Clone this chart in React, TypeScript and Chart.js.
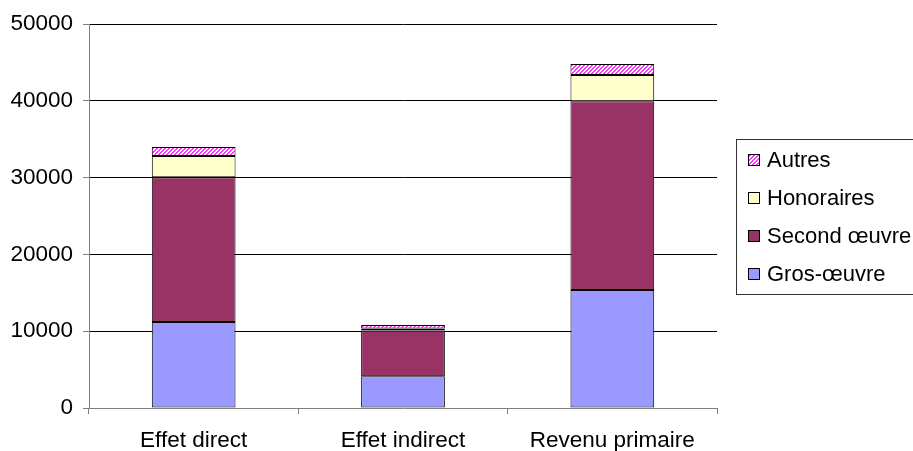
import React, { useEffect, useRef } from "react";
import { Chart, registerables } from "chart.js";

Chart.register(...registerables);

const categories = ["Effet direct", "Effet indirect", "Revenu primaire"];
const grosOeuvre = [11200, 4150, 15350];
const secondOeuvre = [18850, 5950, 24600];
const honoraires = [2750, 250, 3400];
const autres = [1200, 450, 1450];
const yTicks = [0, 10000, 20000, 30000, 40000, 50000];

const FONT = "'Liberation Sans', Arial, sans-serif";

function makeHatch(): CanvasPattern | string {
  const tile = document.createElement("canvas");
  tile.width = 4;
  tile.height = 4;
  const t = tile.getContext("2d");
  if (!t) return "#ff66ff";
  t.fillStyle = "#ffffff";
  t.fillRect(0, 0, 4, 4);
  t.fillStyle = "#ff33ff";
  for (let x = 0; x < 4; x++) {
    for (let y = 0; y < 4; y++) {
      if ((x + y) % 4 < 2) t.fillRect(x, y, 1, 1);
    }
  }
  const p = t.createPattern(tile, "repeat");
  return p || "#ff66ff";
}

// Boxed legend beside the plot, listed top-down in stacking order
const boxedLegend = {
  id: "boxedLegend",
  afterDraw(chart: any) {
    const { ctx, chartArea } = chart;
    const left = chartArea.right + 19;
    const mid = (chartArea.top + chartArea.bottom) / 2;
    const h = 155;
    const top = mid - h / 2;
    ctx.save();
    ctx.strokeStyle = "#333333";
    ctx.lineWidth = 1;
    ctx.strokeRect(Math.round(left) + 0.5, Math.round(top) + 0.5, 240, h);
    const sets = [...chart.data.datasets].reverse();
    ctx.font = `22px ${FONT}`;
    ctx.textBaseline = "middle";
    ctx.textAlign = "left";
    sets.forEach((ds: any, i: number) => {
      const cy = Math.round(top + 21 + i * 38);
      const sx = Math.round(left + 12);
      ctx.fillStyle = ds.backgroundColor;
      ctx.fillRect(sx, cy - 6, 12, 12);
      ctx.strokeStyle = "#000000";
      ctx.strokeRect(sx + 0.5, cy - 5.5, 11, 11);
      ctx.fillStyle = "#000000";
      ctx.fillText(ds.label, sx + 19, cy + 1);
    });
    ctx.restore();
  },
};

export default function App() {
  const ref = useRef<HTMLCanvasElement | null>(null);

  useEffect(() => {
    document.body.style.margin = "0";
    const canvas = ref.current;
    if (!canvas) return;
    const hatch = makeHatch();
    const chart = new Chart(canvas, {
      type: "bar",
      data: {
        labels: categories,
        datasets: [
          { label: "Gros-œuvre", data: grosOeuvre, backgroundColor: "#9999ff" },
          { label: "Second œuvre", data: secondOeuvre, backgroundColor: "#993366" },
          { label: "Honoraires", data: honoraires, backgroundColor: "#ffffcc" },
          { label: "Autres", data: autres, backgroundColor: hatch as any },
        ].map((d) => ({
          ...d,
          borderColor: "#000000",
          borderWidth: 1,
          borderSkipped: false,
          categoryPercentage: 1,
          barPercentage: 0.4,
        })),
      },
      options: {
        responsive: false,
        animation: false,
        devicePixelRatio: 1,
        layout: { padding: { top: 24, right: 196, left: 0, bottom: 0 } },
        plugins: {
          legend: { display: false },
          tooltip: { enabled: false },
        },
        scales: {
          x: {
            stacked: true,
            afterFit: (s: any) => {
              s.height = 43;
            },
            grid: {
              drawOnChartArea: false,
              offset: true,
              tickLength: 6,
              tickColor: "#808080",
            },
            border: { color: "#808080", width: 1 },
            ticks: {
              color: "#000000",
              font: { family: FONT, size: 22.5 },
              padding: 13,
            },
          },
          y: {
            stacked: true,
            min: 0,
            max: 50000,
            afterFit: (s: any) => {
              s.width = 89;
            },
            afterBuildTicks: (s: any) => {
              s.ticks = yTicks.map((v) => ({ value: v }));
            },
            grid: {
              color: (c: any) => (c.tick && c.tick.value === 0 ? "rgba(0,0,0,0)" : "#000000"),
              tickColor: "#808080",
              tickLength: 6,
              lineWidth: 1,
            },
            border: { color: "#808080", width: 1 },
            ticks: {
              color: "#000000",
              font: { family: FONT, size: 22.5 },
              padding: 10,
              callback: (v: any) => String(v),
            },
          },
        },
      },
      plugins: [boxedLegend],
    });
    return () => chart.destroy();
  }, []);

  return (
    <div style={{ width: 913, height: 451, background: "#ffffff" }}>
      <canvas ref={ref} width={913} height={451} style={{ display: "block" }} />
    </div>
  );
}
